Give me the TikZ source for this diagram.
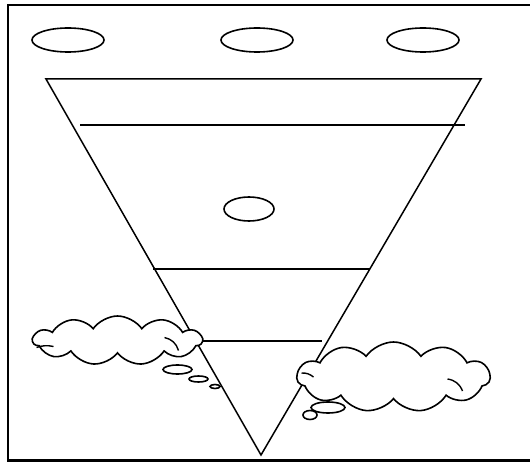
\documentclass[tikz,border=0pt]{standalone}
\usetikzlibrary{shapes.geometric,shapes.symbols}
\begin{document}
\begin{tikzpicture}[x=1pt,y=-1pt,
  oval/.style={ellipse,draw,line width=1.6pt,inner sep=0pt,fill=white},
  thought/.style={cloud,draw,line width=1.6pt,fill=white,cloud puffs=11,cloud puff arc=110,cloud ignores aspect,inner sep=0pt},
  edge/.style={line width=1.5pt},
  crease/.style={line width=1.4pt},
  frame/.style={line width=2.4pt}]
\useasboundingbox (0,0) rectangle (530,462);
\draw[frame] (8,5) rectangle (534,460.5);
% top ovals
\node[oval,minimum width=72pt,minimum height=24pt] (o1) at (68,40) {};
\node[oval,minimum width=72pt,minimum height=24pt] (o2) at (257,40) {};
\node[oval,minimum width=72pt,minimum height=24pt] (o3) at (423,40) {};
% triangle
\coordinate (tl) at (46,79);
\coordinate (tr) at (481,79);
\coordinate (ap) at (261,455);
\draw[edge,line join=miter] (tl) -- (tr) -- (ap) -- cycle;
% horizontal lines
\coordinate (a1) at (80,125); \coordinate (b1) at (465,125);
\coordinate (a2) at (153,269); \coordinate (b2) at (370,269);
\coordinate (a3) at (202,341); \coordinate (b3) at (322,341);
\draw[edge] (a1) -- (b1);
\draw[edge] (a2) -- (b2);
\draw[edge] (a3) -- (b3);
% middle oval
\node[oval,minimum width=50pt,minimum height=24pt] (om) at (249,209) {};
% left thought cloud
\node[thought,minimum width=169pt,minimum height=49pt] (c1) at (117.5,340.5) {};
\draw[crease] ([shift={(-81,7)}]c1.center) to[bend left=15] ([shift={(-64,6)}]c1.center);
\draw[crease] ([shift={(47,-3)}]c1.center) to[bend left=30] ([shift={(61,10)}]c1.center);
\node[oval,minimum width=29pt,minimum height=9pt] (c1b1) at (177.5,369.5) {};
\node[oval,minimum width=19pt,minimum height=6pt] (c1b2) at (198.5,379) {};
\node[oval,minimum width=10pt,minimum height=4pt] (c1b3) at (215,386.5) {};
% right thought cloud
\node[thought,minimum width=193pt,minimum height=70pt] (c2) at (393.5,377) {};
\draw[crease] ([shift={(-92,-4)}]c2.center) to[bend left=20] ([shift={(-80,0)}]c2.center);
\draw[crease] ([shift={(54,2)}]c2.center) to[bend left=30] ([shift={(69,14)}]c2.center);
\node[oval,minimum width=34pt,minimum height=11pt] (c2b1) at (328,407.5) {};
\node[oval,minimum width=14pt,minimum height=9pt] (c2b2) at (310,415) {};
\end{tikzpicture}
\end{document}
